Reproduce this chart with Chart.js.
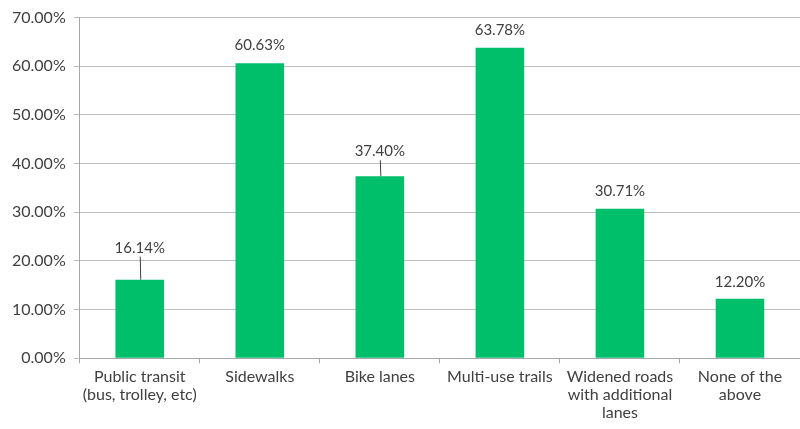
<!DOCTYPE html>
<html>
<head>
<meta charset="utf-8">
<script src="https://cdn.jsdelivr.net/npm/chart.js@4"></script>
<style>
  html, body { margin: 0; padding: 0; background: #fff; }
  #wrap { width: 800px; height: 429px; }
</style>
</head>
<body>
<div id="wrap"><canvas id="myChart"></canvas></div>
<script>
var categories = [
    ['Public transit', '(bus, trolley, etc)'],
    'Sidewalks',
    'Bike lanes',
    'Multi-use trails',
    ['Widened roads', 'with additional', 'lanes'],
    ['None of the', 'above']
];
var shares = [16.14, 60.63, 37.40, 63.78, 30.71, 12.20];
var yTicks = [0, 10, 20, 30, 40, 50, 60, 70];

// pixel lift of each label above its bar; bigger ones get a leader line
var labelLift = [32, 18, 25, 18, 18, 17];

var barLabels = {
    id: 'barLabels',
    afterDatasetsDraw: function (chart) {
        var ctx = chart.ctx;
        var meta = chart.getDatasetMeta(0);
        ctx.save();
        ctx.font = '15px Lato, "Open Sans", sans-serif';
        ctx.fillStyle = '#404040';
        ctx.textAlign = 'center';
        ctx.textBaseline = 'middle';
        meta.data.forEach(function (bar, i) {
            var lift = labelLift[i];
            var ty = bar.y - lift;
            ctx.fillText(shares[i].toFixed(2) + '%', bar.x, ty);
            if (lift > 20) {
                ctx.strokeStyle = '#404040';
                ctx.lineWidth = 1;
                ctx.beginPath();
                ctx.moveTo(bar.x + 0.5, ty + 9);
                ctx.lineTo(bar.x + 1, bar.y);
                ctx.stroke();
            }
        });
        ctx.restore();
    }
};

var ctx = document.getElementById('myChart').getContext('2d');

var myChart = new Chart(ctx, {
    type: 'bar',
    data: {
        labels: categories,
        datasets: [
            {
                data: shares,
                backgroundColor: '#00BF6B',
                barPercentage: 0.405,
                categoryPercentage: 1,
            }
        ]
    },
    plugins: [barLabels],
    options: {
        responsive: true,
        maintainAspectRatio: false,
        animation: false,
        layout: {
            padding: { top: 9, right: 0, bottom: 2, left: 4 }
        },
        plugins: {
            legend: { display: false },
            tooltip: { enabled: false }
        },
        scales: {
            x: {
                grid: {
                    offset: true,
                    drawOnChartArea: false,
                    drawTicks: true,
                    tickLength: 5,
                    color: '#A6A6A6'
                },
                border: { color: '#A6A6A6' },
                ticks: {
                    color: '#404040',
                    font: { family: 'Lato, "Open Sans", sans-serif', size: 16, lineHeight: 1.12 },
                    maxRotation: 0,
                    autoSkip: false,
                    padding: 5
                }
            },
            y: {
                min: yTicks[0],
                max: yTicks[yTicks.length - 1],
                afterBuildTicks: function (axis) {
                    axis.ticks = yTicks.map(function (v) { return { value: v }; });
                },
                grid: {
                    color: '#BFBFBF',
                    tickLength: 6
                },
                border: { color: '#A6A6A6' },
                ticks: {
                    color: '#404040',
                    font: { family: 'Lato, "Open Sans", sans-serif', size: 16 },
                    padding: 8,
                    callback: function (v) { return v.toFixed(2) + '%'; }
                }
            }
        }
    }
});
</script>
</body>
</html>
